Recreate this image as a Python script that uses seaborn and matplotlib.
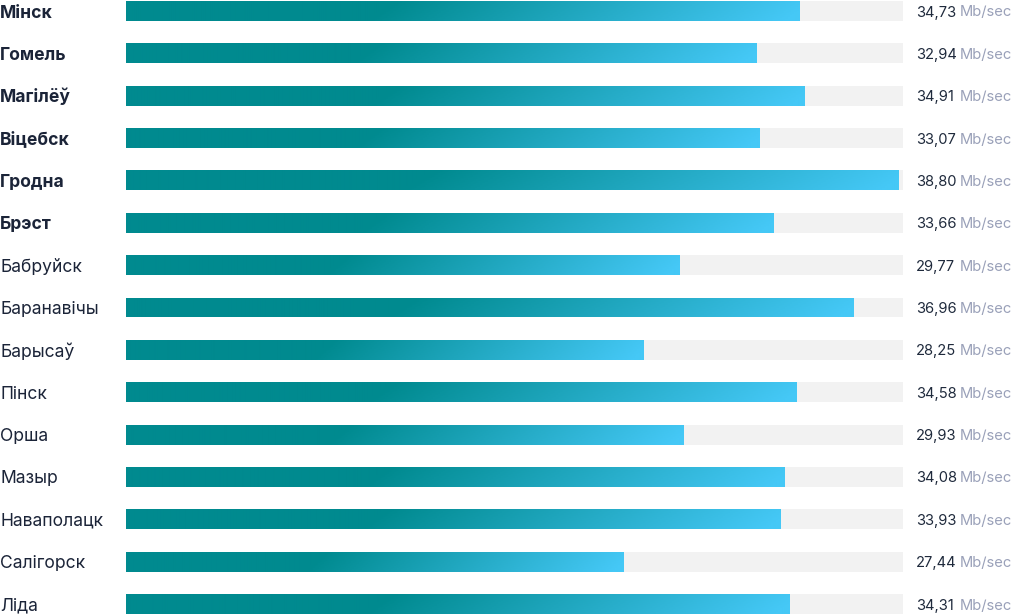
import numpy as np
import pandas as pd
import matplotlib
matplotlib.use("Agg")
import matplotlib.pyplot as plt
import seaborn as sns
from matplotlib.colors import LinearSegmentedColormap

cities = ["Мінск", "Гомель", "Магілёў", "Віцебск", "Гродна", "Брэст",
          "Бабруйск", "Баранавічы", "Барысаў", "Пінск", "Орша", "Мазыр",
          "Наваполацк", "Салігорск", "Ліда"]
speeds = [34.73, 32.94, 34.91, 33.07, 38.80, 33.66, 29.77, 36.96, 28.25,
          34.58, 29.93, 34.08, 33.93, 27.44, 34.31]
bold_flags = [True] * 6 + [False] * 9
unit = "Mb/sec"

df = pd.DataFrame({"city": cities, "speed": speeds})

W, H = 1013, 615
fig = plt.figure(figsize=(W / 100, H / 100), dpi=100)
ax = fig.add_axes([126 / W, 0, 777 / W, 1])

xmin, xmax = 6.86, 39.0
track = pd.DataFrame({"city": cities, "speed": [xmax] * len(cities)})

sns.barplot(data=track, y="city", x="speed", ax=ax, color="#F2F2F2",
            width=0.47, orient="h", saturation=1, linewidth=0)
n_track = len(ax.patches)
sns.barplot(data=df, y="city", x="speed", ax=ax, color="#008B91",
            width=0.47, orient="h", saturation=1, linewidth=0)

cmap = LinearSegmentedColormap.from_list(
    "g", [(0, "#008A8F"), (0.38, "#008A8F"), (1, "#45C8F6")])

ax.set_xlim(xmin, xmax)
ax.set_ylim(14 + 11 / 42.36, -11 / 42.36)

for p in ax.patches[n_track:]:
    x0 = xmin
    x1 = p.get_x() + p.get_width()
    y0 = p.get_y()
    y1 = y0 + p.get_height()
    nx, ny = 300, 20
    xs = np.linspace(0, 1, nx)[None, :]
    ys = np.linspace(0, 1, ny)[:, None]
    t = np.clip(xs + 0.04 * (ys - 0.5), 0, 1)
    im = ax.imshow(t, cmap=cmap, vmin=0, vmax=1, aspect="auto",
                   extent=(x0, x1, y1, y0), interpolation="bilinear", zorder=3)
    im.set_clip_path(p)
    p.set_alpha(0)

ax.set_xlim(xmin, xmax)
ax.set_ylim(14 + 11 / 42.36, -11 / 42.36)
ax.axis("off")

for i, (c, v, b) in enumerate(zip(cities, speeds, bold_flags)):
    ycen = 1 - (11 + i * 42.36) / H
    fig.text(0.0, ycen, c, fontsize=12.6, fontfamily="Inter",
             fontweight="bold" if b else "normal",
             color="#1B2438", ha="left", va="center_baseline")
    fig.text(916 / W, ycen, f"{v:.2f}".replace(".", ","), fontsize=10.6,
             fontfamily="Inter", color="#1F2A3C", ha="left", va="center_baseline")
    fig.text(1012 / W, ycen, unit, fontsize=10.6, fontfamily="Inter",
             color="#9AA1B9", ha="right", va="center_baseline")

fig.savefig("out.png", dpi=100)
